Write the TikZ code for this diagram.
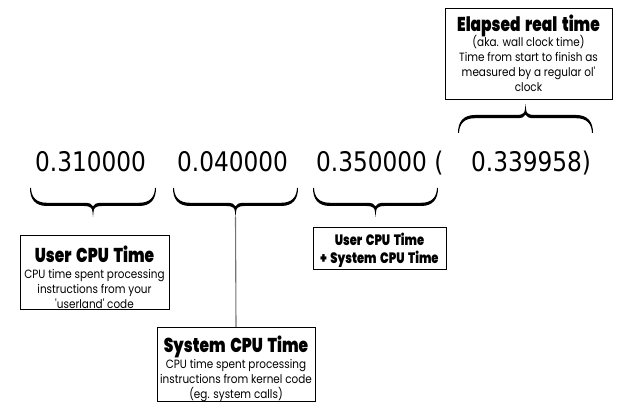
\documentclass[tikz,border=0pt]{standalone}
\usepackage{fontspec}
\newfontfamily\numfont[FakeStretch=0.86]{DejaVu Sans}
\newfontfamily\bodyfont[FakeStretch=0.87]{Poppins}
\newfontfamily\headfont[FakeStretch=0.77, WordSpace=1.8]{Poppins Black}

% curly brace drawn as a filled tapering shape;
% #1 left x, #2 right x, #3 y of the two ends, #4 = 1 (tip down) or -1 (tip up)
\newcommand\drawbrace[4]{%
  \begin{scope}[shift={(#1,#3)}, yscale=#4]
    \pgfmathsetmacro\bw{#2-#1}%
    \pgfmathsetmacro\bm{(#2-#1)/2}%
    \fill (0,0) .. controls (0,11) and (5,18) .. (17,18)
      -- (\bm-9,18) .. controls (\bm-2,18) and (\bm-0.7,20.5) .. (\bm-0.5,24)
      -- (\bm,29) -- (\bm+0.5,24)
      .. controls (\bm+0.7,20.5) and (\bm+2,18) .. (\bm+9,18)
      -- (\bw-17,18) .. controls (\bw-5,18) and (\bw,11) .. (\bw,0)
      -- (\bw-1,0) .. controls (\bw-1.3,9) and (\bw-6,14.8) .. (\bw-17,14.8)
      -- (\bm+9,14.8) .. controls (\bm+3,14.8) and (\bm+0.8,16) .. (\bm,18.5)
      .. controls (\bm-0.8,16) and (\bm-3,14.8) .. (\bm-9,14.8)
      -- (17,14.8) .. controls (6,14.8) and (1.3,9) .. (1,0) -- cycle;
  \end{scope}}

% invisible struts that set the space above the first and below the last line
\newcommand\headstrut[1]{\rule{0pt}{#1pt}}
\newcommand\footstrut[1]{\rule[-#1pt]{0pt}{#1pt}}
\newcommand\fixedlines{\lineskiplimit=-100pt\relax\lineskip=0pt\relax}
\newcommand\headbig{\headfont\fontsize{20}{15}\selectfont}
\newcommand\headsmall{\headfont\fontsize{15}{15}\selectfont}

\begin{document}
\begin{tikzpicture}[x=1pt, y=-1pt,
  num/.style={anchor=base west, inner sep=0pt,
    font=\numfont\fontsize{27}{30}\selectfont},
  infobox/.style={draw, line width=0.9pt, anchor=north, align=center,
    inner xsep=0pt, inner ysep=0pt,
    font=\bodyfont\fontsize{12}{15}\selectfont\fixedlines},
  link/.style={draw=black!55, line width=1.1pt}]
\useasboundingbox (0,0) rectangle (621,414);

% the four timing values
\node[num] (user) at (35,172) {0.310000};
\node[num] (sys)  at (177,172) {0.040000};
\node[num] (cpu)  at (316,172) {0.350000 (};
\node[num] (real) at (471,172) {0.339958)};

% braces under and over the values
\drawbrace{30}{156}{188}{1}
\drawbrace{173}{298}{188}{1}
\drawbrace{313}{438}{188}{1}
\drawbrace{458}{593}{133}{-1}
\coordinate (systip) at (235.5,217);

% explanation boxes
\node[infobox, minimum width=149pt] (userbox) at (94.5,235)
  {\headstrut{27}{\headbig User CPU Time}\\[1pt]
   CPU time spent processing\\
   instructions from your\\
   'userland' code\footstrut{1}};

\node[infobox, minimum width=158pt] (sysbox) at (236,327)
  {\headstrut{25}{\headbig System CPU Time}\\[1pt]
   CPU time spent processing\\
   instructions from kernel code\\
   (eg. system calls)\footstrut{2}};

\node[infobox, minimum width=133pt] (cpubox) at (379.5,227)
  {\headstrut{18}{\headsmall User CPU Time}\\[3pt]
   {\headsmall + System CPU Time}\footstrut{6}};

\node[infobox, minimum width=167pt] (realbox) at (528.5,8)
  {\headstrut{23}{\headbig Elapsed real time}\\
   (aka. wall clock time)\\
   Time from start to finish as\\
   measured by a regular ol'\\
   clock\footstrut{8}};

% system brace leads down to its box
\draw[link] (systip) -- (sysbox.north);
\end{tikzpicture}
\end{document}
